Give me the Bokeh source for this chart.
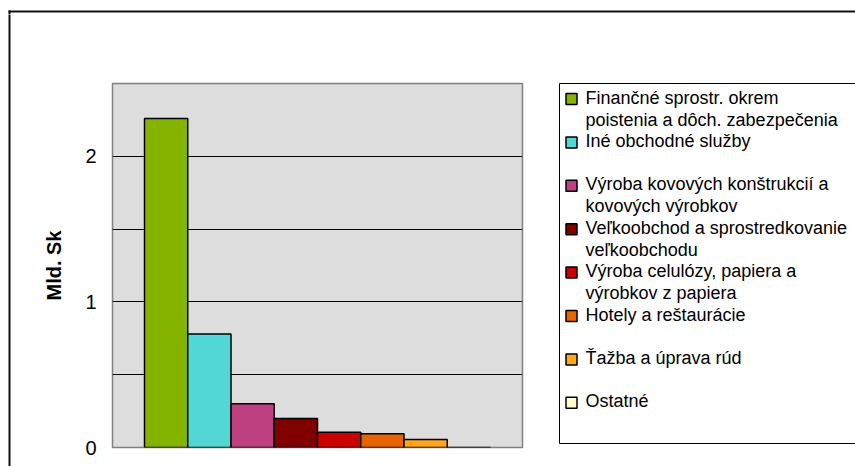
from bokeh.plotting import figure
from bokeh.layouts import row, column
from bokeh.models import Range1d, FixedTicker, ColumnDataSource
from bokeh.core.properties import value
from bokeh.embed import file_html
from bokeh.resources import INLINE

# ---- data ----
categories = [
    "Finančné sprostr. okrem poistenia a dôch. zabezpečenia",
    "Iné obchodné služby",
    "Výroba kovových konštrukcií a kovových výrobkov",
    "Veľkoobchod a sprostredkovanie veľkoobchodu",
    "Výroba celulózy, papiera a výrobkov z papiera",
    "Hotely a reštaurácie",
    "Ťažba a úprava rúd",
    "Ostatné",
]
legend_lines = [
    ["Finančné sprostr. okrem", "poistenia a dôch. zabezpečenia"],
    ["Iné obchodné služby"],
    ["Výroba kovových konštrukcií a", "kovových výrobkov"],
    ["Veľkoobchod a sprostredkovanie", "veľkoobchodu"],
    ["Výroba celulózy, papiera a", "výrobkov z papiera"],
    ["Hotely a reštaurácie"],
    ["Ťažba a úprava rúd"],
    ["Ostatné"],
]
values = [2.26, 0.78, 0.30, 0.20, 0.105, 0.094, 0.055, 0.0]
colors = ["#84B400", "#52D6D6", "#BF4080", "#800000", "#CC0000",
          "#E86400", "#FFA51E", "#FFFFCC"]
y_ticks = [0, 1, 2]
y_grid = [0.5, 1, 1.5, 2]
y_label = "Mld. Sk"

FONT = "Liberation Sans"
FRAME = "#111111"


def blank_fig(w, h, x0, y0):
    """A decoration panel whose data space is page pixels (y downward)."""
    f = figure(width=w, height=h, output_backend="svg", toolbar_location=None,
               x_range=Range1d(x0, x0 + w), y_range=Range1d(y0 + h, y0),
               min_border=0, min_border_left=0, min_border_right=0,
               min_border_top=0, min_border_bottom=0)
    f.axis.visible = False
    f.grid.visible = False
    f.outline_line_color = None
    f.background_fill_color = "white"
    f.border_fill_color = "white"
    return f


# ---- outer chart frame: top strip (full width) and left strip ----
top_strip = blank_fig(855, 14, 0, 0)
top_strip.segment(x0=[8], y0=[11], x1=[870], y1=[11], line_color=FRAME, line_width=2)
top_strip.segment(x0=[9], y0=[10], x1=[9], y1=[20], line_color=FRAME, line_width=2)

left_strip = blank_fig(20, 452, 0, 14)
left_strip.segment(x0=[9], y0=[0], x1=[9], y1=[480], line_color=FRAME, line_width=2)

# ---- main chart ----
src = ColumnDataSource(dict(x=list(range(len(values))), top=values,
                            color=colors, name=categories))

p = figure(width=520, height=452, output_backend="svg", toolbar_location=None,
           x_range=Range1d(-1.24, 8.24), y_range=Range1d(0, 2.5),
           min_border_left=92, min_border_right=18,
           min_border_top=69, min_border_bottom=19)

p.background_fill_color = "#DDDDDD"
p.border_fill_color = "white"
p.outline_line_color = "#808080"
p.outline_line_width = 1.5

p.vbar(x="x", top="top", width=1.0, bottom=0, fill_color="color",
       line_color="black", line_width=1.5, source=src)

p.xaxis.visible = False
p.xgrid.visible = False
p.ygrid.ticker = FixedTicker(ticks=y_grid)
p.ygrid.grid_line_color = "black"
p.ygrid.grid_line_width = 1

ya = p.yaxis[0]
ya.ticker = FixedTicker(ticks=y_ticks)
ya.axis_line_color = None
ya.major_tick_line_color = None
ya.minor_tick_line_color = None
ya.major_label_text_font = FONT
ya.major_label_text_font_size = "20px"
ya.major_label_text_color = "black"
ya.major_label_standoff = 10
ya.axis_label = y_label
ya.axis_label_text_font = FONT
ya.axis_label_text_font_size = "20px"
ya.axis_label_text_font_style = "bold"
ya.axis_label_text_color = "black"
ya.axis_label_standoff = 17

# ---- legend panel ----
lg = blank_fig(315, 452, 540, 14)
lg.quad(left=[559], right=[900], top=[83], bottom=[443],
        fill_color="white", line_color="black", line_width=1)

step, line_gap = 43.4, 22
sw_x, sw_y, sw_c = [], [], []
tx, ty, tt = [], [], []
for i, lines in enumerate(legend_lines):
    cy = 97 + step * i
    sw_x.append(571)
    sw_y.append(cy + 1.5)
    sw_c.append(colors[i])
    for j, t in enumerate(lines):
        tx.append(585)
        ty.append(cy + line_gap * j)
        tt.append(t)

lg.rect(x=sw_x, y=sw_y, width=11, height=11, fill_color=sw_c,
        line_color="black", line_width=1.5)
lg.text(x=tx, y=ty, text=tt, text_font=value(FONT), text_font_size="18px",
        text_color="black", text_baseline="middle", text_align="left")

layout = column(top_strip, row(left_strip, row(p), lg))

open("out.html", "w").write(file_html(layout, INLINE))
